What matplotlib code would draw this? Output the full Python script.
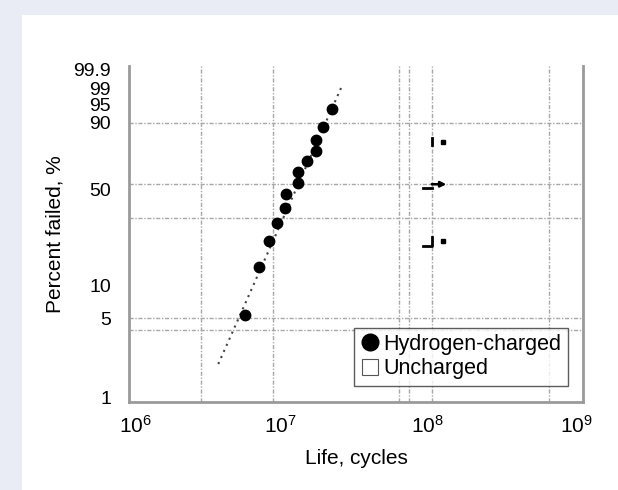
import numpy as np
import matplotlib
matplotlib.use('Agg')
import matplotlib.pyplot as plt
import matplotlib.transforms as mtransforms
from matplotlib.lines import Line2D
from matplotlib.patches import Rectangle

plt.rcParams['font.family'] = ['Liberation Sans', 'DejaVu Sans']
plt.rcParams['mathtext.fontset'] = 'custom'
plt.rcParams['mathtext.rm'] = 'Liberation Sans'

# hydrogen-charged specimens: life (cycles) and percent failed
h_life = [5.85e6, 7.26e6, 8.41e6, 9.46e6, 1.08e7, 1.09e7, 1.30e7, 1.30e7,
          1.51e7, 1.72e7, 1.72e7, 1.92e7, 2.21e7]
h_pct = [5.3, 12.9, 20.6, 28.0, 35.6, 43.4, 50.8, 58.5,
         66.3, 73.1, 80.3, 87.8, 95.1]

# fitted line end points
fit_life = [3.89e6, 2.52e7]
fit_pct = [2.08, 98.9]

# uncharged specimens (runouts)
unc_life = [1.18e8, 1.18e8]
unc_pct = [79.4, 20.6]
runout_pct = 50.0

y_ticks = [1, 5, 10, 50, 90, 95, 99, 99.9]
y_labels = ['1', '5', '10', '50', '90', '95', '99', '99.9']
x_ticks = [1e6, 1e7, 1e8, 1e9]
x_labels = [r'$\mathregular{10^{6}}$', r'$\mathregular{10^{7}}$',
            r'$\mathregular{10^{8}}$', r'$\mathregular{10^{9}}$']

grid_x = [3e6, 9e6, 6.1e7, 7.1e7, 1e8, 6e8]
grid_y = [90, 50, 30, 5, 4]


def fwd(p):
    p = np.clip(np.asarray(p, dtype=float), 1e-6, 100 - 1e-6) / 100.0
    return np.log(-np.log(1 - p))


def inv(w):
    w = np.asarray(w, dtype=float)
    return 100.0 * (1 - np.exp(-np.exp(w)))


fig = plt.figure(figsize=(6.18, 4.9), dpi=100)
fig.patch.set_facecolor('#e9ecf5')
fig.patches.append(Rectangle((22 / 618, 0), 1, 475 / 490, transform=fig.transFigure,
                             facecolor='white', edgecolor='none', zorder=-1))

ax = fig.add_axes([129 / 618, 1 - 402 / 490, 454 / 618, 336 / 490])
ax.set_xscale('log')
ax.set_yscale('function', functions=(fwd, inv))
ax.set_xlim(1e6, 1e9)
ax.set_ylim(1, 99.9)

grid_style = dict(color='#a8a8a8', lw=1.0, ls=(0, (3, 1.2, 1, 1.2)), zorder=1)
for gx in grid_x:
    ax.axvline(gx, **grid_style)
for gy in grid_y:
    ax.axhline(gy, **grid_style)

ax.plot(fit_life, fit_pct, ls=(0, (1, 2.2)), lw=1.5, color='#444444', zorder=2)
ax.plot(h_life, h_pct, 'o', ms=7.5, color='black', zorder=3)

# uncharged marks
ax.plot(unc_life, unc_pct, 's', ms=2.8, color='black', zorder=3)
ax.plot([1e8, 1e8], [77.5, 81.5], color='black', lw=2)
ax.plot([8.8e7, 1e8, 1e8], [18.9, 18.9, 22.0], color='black', lw=2)
ax.plot([8.8e7, 1e8], [47.5, 47.5], color='black', lw=2)
ax.annotate('', xy=(1.25e8, runout_pct), xytext=(1e8, runout_pct),
            arrowprops=dict(arrowstyle='-|>', color='black', lw=1.8,
                            mutation_scale=8, shrinkA=0, shrinkB=0))

ax.set_xticks(x_ticks)
ax.set_xticklabels(x_labels)
ax.xaxis.set_minor_locator(matplotlib.ticker.NullLocator())
ax.set_yticks(y_ticks)
ax.set_yticklabels(y_labels)
ax.yaxis.set_minor_locator(matplotlib.ticker.NullLocator())
ax.tick_params(length=0, labelsize=15, colors='black')
ax.tick_params(axis='x', pad=9)
ax.tick_params(axis='y', pad=13, labelsize=14)

# nudge tick labels to where the reference prints them (pixel offsets)
y_nudge = [5, 0, -4, -5, 0, 4, -2, -3]
for lab, dy in zip(ax.get_yticklabels(), y_nudge):
    lab.set_transform(lab.get_transform() +
                      mtransforms.ScaledTranslation(0, dy / 100, fig.dpi_scale_trans))
x_nudge = [6, 0, -4, -7]
for lab, dx in zip(ax.get_xticklabels(), x_nudge):
    lab.set_transform(lab.get_transform() +
                      mtransforms.ScaledTranslation(dx / 100, 0, fig.dpi_scale_trans))

for s in ['left', 'bottom', 'right']:
    ax.spines[s].set_color('#9a9a9a')
    ax.spines[s].set_linewidth(2)
ax.spines['top'].set_visible(False)

ax.set_xlabel('Life, cycles', fontsize=15, labelpad=9)
ax.set_ylabel('Percent failed, %', fontsize=15, labelpad=6)

handles = [
    Line2D([], [], marker='o', ls='none', ms=12, color='black'),
    Line2D([], [], marker='s', ls='none', ms=11.5, markerfacecolor='white',
           markeredgecolor='#555555', markeredgewidth=0.8),
]
leg = ax.legend(handles, ['Hydrogen-charged', 'Uncharged'], loc='lower right',
                bbox_to_anchor=(0.966, 0.0485), borderaxespad=0, fontsize=15.5,
                frameon=True, fancybox=False, edgecolor='#333333',
                handlelength=0.85, handletextpad=0.2, labelspacing=0.15,
                borderpad=0.3)
leg.get_frame().set_linewidth(1.0)
leg.set_zorder(5)

fig.savefig('out.png', dpi=100, facecolor=fig.get_facecolor())
